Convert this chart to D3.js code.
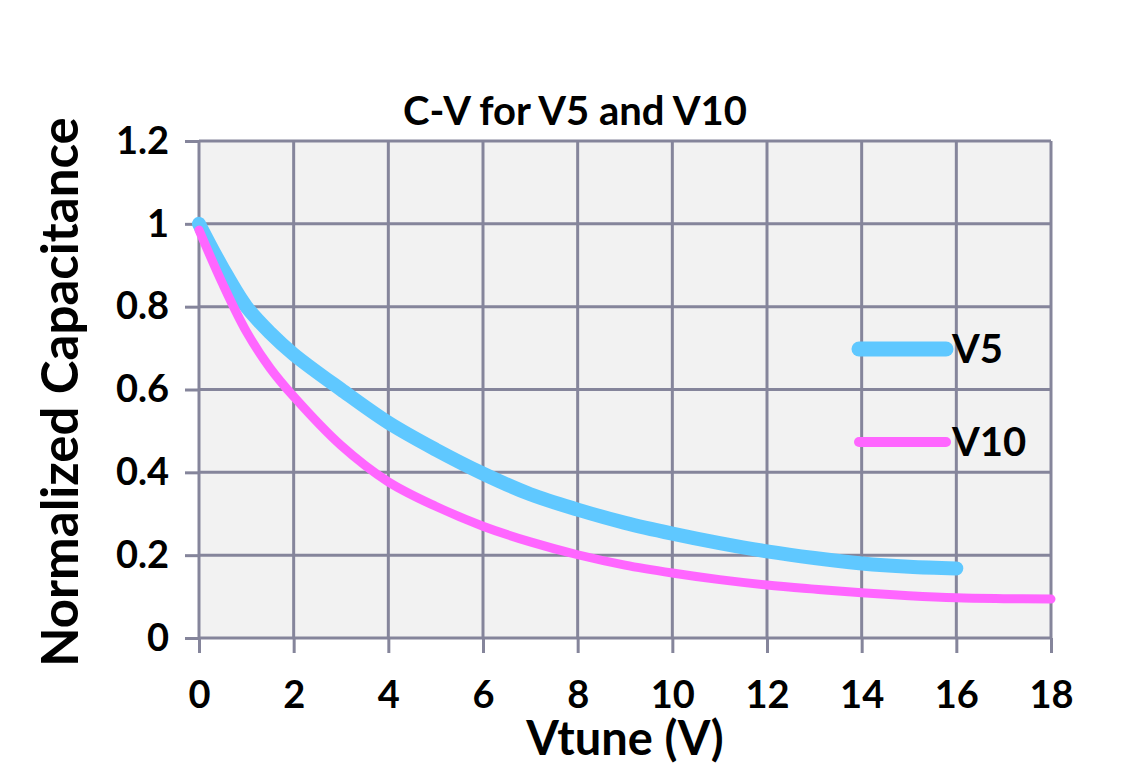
<!DOCTYPE html>
<html>
<head>
<meta charset="utf-8">
<title>C-V for V5 and V10</title>
<script src="https://d3js.org/d3.v7.min.js"></script>
<style>
  body { margin: 0; background: #fff; }
  text { font-family: Lato, "Open Sans", sans-serif; font-weight: bold; fill: #000; }
</style>
</head>
<body>
<div id="chart"></div>
<script>
// Data
const vtune = [0, 0.5, 1, 1.5, 2, 3, 4, 5, 6, 7, 8, 9, 10, 11, 12, 13, 14, 15, 16, 17, 18];
const v5 = [1.0, 0.893, 0.8, 0.737, 0.685, 0.6, 0.52, 0.455, 0.397, 0.347, 0.31, 0.278, 0.252, 0.229, 0.209, 0.193, 0.18, 0.172, 0.168];
const v10 = [0.985, 0.855, 0.74, 0.652, 0.583, 0.465, 0.377, 0.318, 0.27, 0.232, 0.201, 0.176, 0.157, 0.141, 0.128, 0.118, 0.109, 0.102, 0.097, 0.095, 0.094];
const seriesNames = ["V5", "V10"];
const xTicks = [0, 2, 4, 6, 8, 10, 12, 14, 16, 18];
const yTicks = [0, 0.2, 0.4, 0.6, 0.8, 1, 1.2];

const W = 1147, H = 773;
const margin = { top: 141, right: 96, bottom: 135, left: 199 };
const width = W - margin.left - margin.right;
const height = H - margin.top - margin.bottom;

const svg = d3.select("#chart")
  .append("svg")
  .attr("width", W)
  .attr("height", H);

const g = svg.append("g")
  .attr("transform", `translate(${margin.left},${margin.top})`);

const x = d3.scaleLinear().domain([0, 18]).range([0, width]);
const y = d3.scaleLinear().domain([0, 1.2]).range([height, 0]);

const gridColor = "#85859b";

// plot background
g.append("rect")
  .attr("width", width)
  .attr("height", height)
  .attr("fill", "#f2f2f2");

// grid lines
g.append("g")
  .selectAll("line")
  .data(xTicks)
  .join("line")
  .attr("x1", d => x(d)).attr("x2", d => x(d))
  .attr("y1", 0).attr("y2", height)
  .attr("stroke", gridColor).attr("stroke-width", 3);
g.append("g")
  .selectAll("line")
  .data(yTicks)
  .join("line")
  .attr("x1", 0).attr("x2", width)
  .attr("y1", d => y(d)).attr("y2", d => y(d))
  .attr("stroke", gridColor).attr("stroke-width", 3);

// axes
const yAxis = g.append("g")
  .call(d3.axisLeft(y).tickValues(yTicks).tickSize(14).tickPadding(16)
    .tickFormat(d => d3.format("")(+d.toFixed(1))));
const xAxis = g.append("g")
  .attr("transform", `translate(0,${height})`)
  .call(d3.axisBottom(x).tickValues(xTicks).tickSize(15).tickPadding(28));

[xAxis, yAxis].forEach(a => {
  a.select(".domain").remove();
  a.selectAll("line").attr("stroke", gridColor).attr("stroke-width", 3);
  a.selectAll("text").style("font-size", "38px").attr("fill", "#000");
});

// curves
const line = d3.line()
  .x(d => x(d[0]))
  .y(d => y(d[1]))
  .curve(d3.curveCatmullRom.alpha(0.5));

const series = [
  { name: seriesNames[0], values: v5, color: "#5fc8ff", w: 14 },
  { name: seriesNames[1], values: v10, color: "#ff66ff", w: 9 }
];

series.forEach(s => {
  g.append("path")
    .datum(s.values.map((v, i) => [vtune[i], v]))
    .attr("fill", "none")
    .attr("stroke", s.color)
    .attr("stroke-width", s.w)
    .attr("stroke-linecap", "round")
    .attr("stroke-linejoin", "round")
    .attr("d", line);
});

// legend
const legend = svg.append("g");
series.forEach((s, i) => {
  const ly = 349 + i * 93;
  legend.append("line")
    .attr("x1", 859).attr("x2", 946)
    .attr("y1", ly).attr("y2", ly)
    .attr("stroke", s.color)
    .attr("stroke-width", s.w + 1)
    .attr("stroke-linecap", "round");
  legend.append("text")
    .attr("x", 952).attr("y", ly + 14)
    .style("font-size", "40px")
    .text(s.name);
});

// titles
svg.append("text")
  .attr("x", 575).attr("y", 125)
  .attr("text-anchor", "middle")
  .style("font-size", "40px")
  .text("C-V for V5 and V10");

svg.append("text")
  .attr("x", 625).attr("y", 755)
  .attr("text-anchor", "middle")
  .style("font-size", "47px")
  .text("Vtune (V)");

svg.append("text")
  .attr("transform", "translate(78,392) rotate(-90)")
  .attr("text-anchor", "middle")
  .style("font-size", "51px")
  .text("Normalized Capacitance");
</script>
</body>
</html>
